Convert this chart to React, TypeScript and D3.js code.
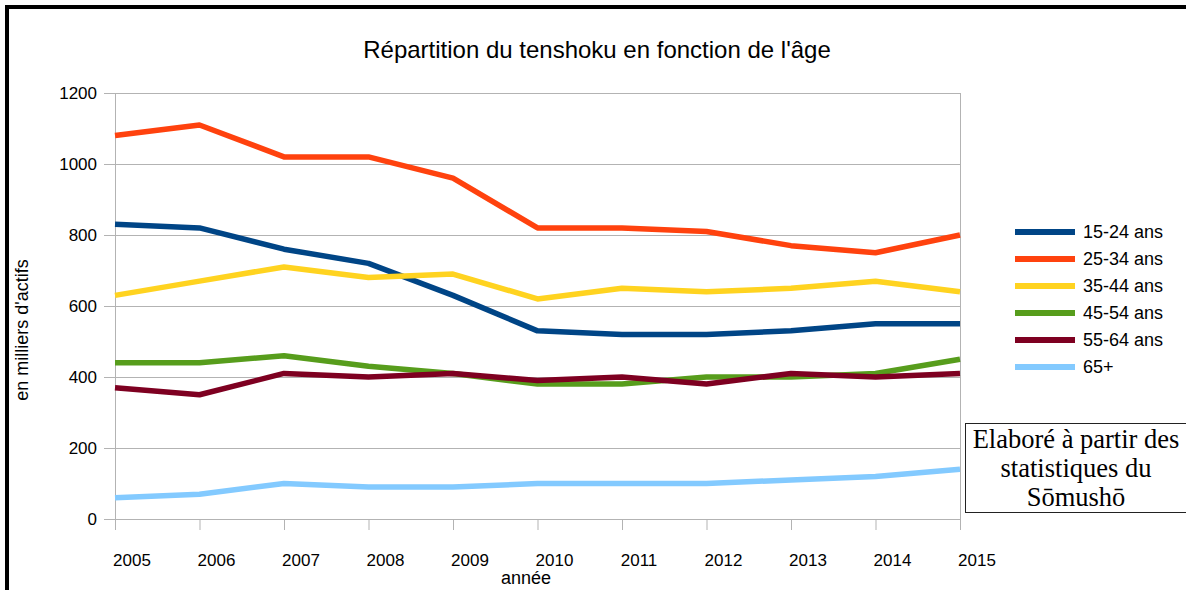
import React, { useEffect, useRef } from 'react';
import * as d3 from 'd3';

const years = ['2005', '2006', '2007', '2008', '2009', '2010', '2011', '2012', '2013', '2014', '2015'];
const yTicks = [0, 200, 400, 600, 800, 1000, 1200];

const age1524 = [830, 820, 760, 720, 630, 530, 520, 520, 530, 550, 550];
const age2534 = [1080, 1110, 1020, 1020, 960, 820, 820, 810, 770, 750, 800];
const age3544 = [630, 670, 710, 680, 690, 620, 650, 640, 650, 670, 640];
const age4554 = [440, 440, 460, 430, 410, 380, 380, 400, 400, 410, 450];
const age5564 = [370, 350, 410, 400, 410, 390, 400, 380, 410, 400, 410];
const age65 = [60, 70, 100, 90, 90, 100, 100, 100, 110, 120, 140];

const seriesNames = ['15-24 ans', '25-34 ans', '35-44 ans', '45-54 ans', '55-64 ans', '65+'];
const seriesColors = ['#004586', '#ff420e', '#ffd320', '#579d1c', '#7e0021', '#83caff'];

const App = () => {
  const ref = useRef(null);

  useEffect(() => {
    const svg = d3.select(ref.current);
    svg.selectAll('*').remove();

    const left = 115, right = 960, top = 93, bottom = 519;
    const x = d3.scalePoint().domain(years).range([left, right]);
    const y = d3.scaleLinear().domain([0, 1200]).range([bottom, top]);
    const font = '"Liberation Sans", Arial, sans-serif';

    // outer frame
    svg.append('rect')
      .attr('x', 7).attr('y', 7).attr('width', 1200).attr('height', 600)
      .attr('fill', 'white').attr('stroke', 'black').attr('stroke-width', 4);

    svg.append('text')
      .attr('x', 597).attr('y', 58)
      .attr('text-anchor', 'middle')
      .style('font-family', font).style('font-size', '24px')
      .text("Répartition du tenshoku en fonction de l'âge");

    // grid lines + y ticks
    const grid = svg.append('g');
    grid.selectAll('line.h').data(yTicks).enter().append('line')
      .attr('x1', left - 11).attr('x2', right)
      .attr('y1', d => y(d) + 0.5).attr('y2', d => y(d) + 0.5)
      .attr('stroke', '#b3b3b3').attr('stroke-width', 1);
    grid.selectAll('text').data(yTicks).enter().append('text')
      .attr('x', left - 18).attr('y', d => y(d) + 6)
      .attr('text-anchor', 'end')
      .style('font-family', font).style('font-size', '17px')
      .text(d => d);

    // vertical axis lines and x ticks
    grid.append('line')
      .attr('x1', left + 0.5).attr('x2', left + 0.5).attr('y1', top).attr('y2', bottom + 11)
      .attr('stroke', '#b3b3b3');
    grid.append('line')
      .attr('x1', right + 0.5).attr('x2', right + 0.5).attr('y1', top).attr('y2', bottom + 11)
      .attr('stroke', '#b3b3b3');
    grid.selectAll('line.t').data(years).enter().append('line')
      .attr('x1', d => x(d) + 0.5).attr('x2', d => x(d) + 0.5)
      .attr('y1', bottom).attr('y2', bottom + 11)
      .attr('stroke', '#b3b3b3');
    grid.selectAll('text.x').data(years).enter().append('text')
      .attr('x', d => x(d) + 17).attr('y', 566)
      .attr('text-anchor', 'middle')
      .style('font-family', font).style('font-size', '17px')
      .text(d => d);

    svg.append('text')
      .attr('x', 526).attr('y', 584)
      .attr('text-anchor', 'middle')
      .style('font-family', font).style('font-size', '18px')
      .text('année');

    svg.append('text')
      .attr('transform', 'translate(28,330) rotate(-90)')
      .attr('text-anchor', 'middle')
      .style('font-family', font).style('font-size', '18px')
      .text("en milliers d'actifs");

    // series
    const allSeries = [age1524, age2534, age3544, age4554, age5564, age65];
    const line = d3.line<number>().x((d, i) => x(years[i])).y(d => y(d));
    svg.append('g').selectAll('path').data(allSeries).enter().append('path')
      .attr('d', d => line(d))
      .attr('fill', 'none')
      .attr('stroke', (d, i) => seriesColors[i])
      .attr('stroke-width', 5.5)
      .attr('stroke-linejoin', 'round');

    // legend
    const legend = svg.append('g').selectAll('g').data(seriesNames).enter().append('g')
      .attr('transform', (d, i) => `translate(1015,${232 + i * 27})`);
    legend.append('rect')
      .attr('x', 0).attr('y', -3).attr('width', 60).attr('height', 6)
      .attr('fill', (d, i) => seriesColors[i]);
    legend.append('text')
      .attr('x', 68).attr('y', 6)
      .style('font-family', font).style('font-size', '18px')
      .text(d => d);

    // source note
    svg.append('rect')
      .attr('x', 965.5).attr('y', 423.5).attr('width', 224).attr('height', 89)
      .attr('fill', 'white').attr('stroke', '#222').attr('stroke-width', 1);
    const note = ['Elaboré à partir des', 'statistiques du', 'Sōmushō'];
    svg.append('g').selectAll('text').data(note).enter().append('text')
      .attr('x', 1076).attr('y', (d, i) => 448 + i * 29)
      .attr('text-anchor', 'middle')
      .style('font-family', '"Liberation Serif", "DejaVu Serif", serif').style('font-size', '26.5px')
      .text(d => d);
  }, []);

  return (
    <svg ref={ref} width={1186} height={590}
      style={{ position: 'absolute', left: 0, top: 0, display: 'block', background: 'white' }} />
  );
};

export default App;
